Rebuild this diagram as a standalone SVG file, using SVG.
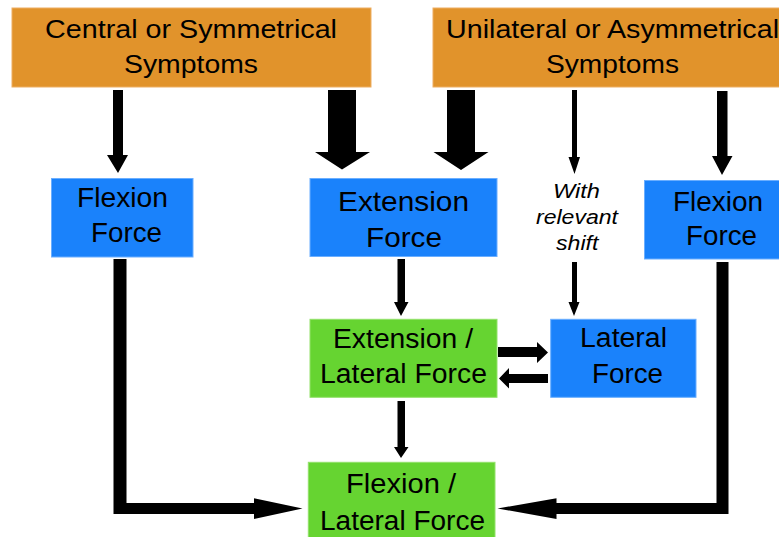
<svg xmlns="http://www.w3.org/2000/svg" width="779" height="537" viewBox="0 0 779 537">
  <style>
    .t { font-family: "Liberation Sans", Arial, Helvetica, sans-serif; fill: #000; }
    .top { font-size: 25px; }
    .box { font-size: 27px; }
    .note { font-size: 20px; font-style: italic; }
    .orange { fill: #E1932B; stroke: #EDAE63; stroke-width: 1; }
    .blue { fill: #1A82FB; stroke: #6AAEFF; stroke-width: 1; }
    .green { fill: #66D431; stroke: #93E26A; stroke-width: 1; }
    .arrow { fill: #000; stroke: none; }
  </style>

  <!-- Symptom groups -->
  <g id="central-symptoms">
    <rect class="orange" x="12" y="8" width="359" height="79"/>
    <text class="t top" x="45" y="37.5" textLength="292" lengthAdjust="spacingAndGlyphs">Central or Symmetrical</text>
    <text class="t top" x="124" y="72.5" textLength="134" lengthAdjust="spacingAndGlyphs">Symptoms</text>
  </g>
  <g id="unilateral-symptoms">
    <rect class="orange" x="433" y="8" width="360" height="79"/>
    <text class="t top" x="446" y="37.5" textLength="333" lengthAdjust="spacingAndGlyphs">Unilateral or Asymmetrical</text>
    <text class="t top" x="546" y="72.5" textLength="133" lengthAdjust="spacingAndGlyphs">Symptoms</text>
  </g>

  <!-- Force nodes -->
  <g id="flexion-force-left">
    <rect class="blue" x="51.5" y="178.5" width="141.5" height="78.5"/>
    <text class="t box" x="77" y="207" textLength="91" lengthAdjust="spacingAndGlyphs">Flexion</text>
    <text class="t box" x="91" y="242" textLength="71" lengthAdjust="spacingAndGlyphs">Force</text>
  </g>
  <g id="extension-force">
    <rect class="blue" x="310" y="178.5" width="187" height="78"/>
    <text class="t box" x="338" y="210.7" textLength="131" lengthAdjust="spacingAndGlyphs" style="font-size:28px">Extension</text>
    <text class="t box" x="366" y="246.5" textLength="76" lengthAdjust="spacingAndGlyphs" style="font-size:28px">Force</text>
  </g>
  <g id="flexion-force-right">
    <rect class="blue" x="644.5" y="180.5" width="140" height="78.5"/>
    <text class="t box" x="673" y="210.7" textLength="90" lengthAdjust="spacingAndGlyphs">Flexion</text>
    <text class="t box" x="686" y="245" textLength="71" lengthAdjust="spacingAndGlyphs">Force</text>
  </g>
  <g id="shift-note">
    <text class="t note" x="553" y="198.3" textLength="47" lengthAdjust="spacingAndGlyphs">With</text>
    <text class="t note" x="536" y="223.5" textLength="82" lengthAdjust="spacingAndGlyphs">relevant</text>
    <text class="t note" x="556" y="249.5" textLength="42.5" lengthAdjust="spacingAndGlyphs">shift</text>
  </g>
  <g id="extension-lateral-force">
    <rect class="green" x="310" y="319.3" width="187" height="78"/>
    <text class="t box" x="333" y="348.3" textLength="140" lengthAdjust="spacingAndGlyphs">Extension /</text>
    <text class="t box" x="320" y="383.3" textLength="167" lengthAdjust="spacingAndGlyphs">Lateral Force</text>
  </g>
  <g id="lateral-force">
    <rect class="blue" x="550.7" y="319.3" width="145.3" height="78"/>
    <text class="t box" x="580" y="347.3" textLength="87" lengthAdjust="spacingAndGlyphs">Lateral</text>
    <text class="t box" x="592" y="382.7" textLength="71" lengthAdjust="spacingAndGlyphs">Force</text>
  </g>
  <g id="flexion-lateral-force">
    <rect class="green" x="308.3" y="462.3" width="186.7" height="80"/>
    <text class="t box" x="346" y="493.3" textLength="110" lengthAdjust="spacingAndGlyphs">Flexion /</text>
    <text class="t box" x="320" y="530" textLength="165" lengthAdjust="spacingAndGlyphs">Lateral Force</text>
  </g>

  <!-- Connectors -->
  <g id="connectors" class="arrow">
    <!-- symptoms to forces -->
    <path d="M113,90 H123 V155 H128 L118,173 L107,155 H113 Z"/>
    <path d="M328,90 H356 V152 H370 L342,169.5 L315,152 H328 Z"/>
    <path d="M447,90 H475 V152 H488.5 L461,170 L433.5,152 H447 Z"/>
    <path d="M572,90 H577 V157 H580 L574.5,174 L568.5,157 H572 Z"/>
    <path d="M717,91 H727.5 V156 H732.5 L722,175 L712,156 H717 Z"/>
    <!-- extension to extension / lateral -->
    <path d="M397.5,259 H405 V302 H408.5 L401,316 L394,302 H397.5 Z"/>
    <!-- shift to lateral -->
    <path d="M572,262 H577 V302 H579.5 L574,316 L568.5,302 H572 Z"/>
    <!-- extension / lateral to flexion / lateral -->
    <path d="M397.5,401 H405 V447 H408.5 L401,458 L394,447 H397.5 Z"/>
    <!-- exchange between extension / lateral and lateral -->
    <path d="M498,347 H537 V342 L548,352.5 L537,363 V357 H498 Z"/>
    <path d="M548,374 H509 V368 L499,378.5 L509,388.5 V383 H548 Z"/>
    <!-- flexion elbows into flexion / lateral -->
    <path d="M113.5,259 H126.5 V503 H254 V498.3 L302.5,508.5 L254,519 V514 H113.5 Z"/>
    <path d="M728.5,262 H716.5 V503 H556.5 V498.3 L497.5,508.5 L556.5,519 V514 H728.5 Z"/>
  </g>
</svg>
